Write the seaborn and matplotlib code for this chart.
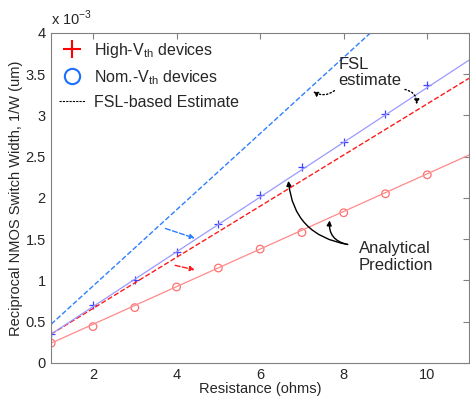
import numpy as np
import pandas as pd
import seaborn as sns
import matplotlib.pyplot as plt
from matplotlib.lines import Line2D

# resistance (ohms) and reciprocal width values in units of 1e-3 1/um
res = [1, 2, 3, 4, 5, 6, 7, 8, 9, 10]
high_vth_meas = [0.35, 0.70, 1.00, 1.34, 1.68, 2.03, 2.38, 2.68, 3.02, 3.37]
nom_vth_meas = [0.24, 0.44, 0.67, 0.92, 1.15, 1.38, 1.58, 1.82, 2.05, 2.28]

# analytical prediction lines (solid) and FSL estimates (dashed), end points
line_x = [1, 11]
high_vth_pred = [0.35, 3.67]
nom_vth_pred = [0.24, 2.52]
high_vth_fsl = [0.47, 5.09]
nom_vth_fsl = [0.35, 3.45]

sns.set_style("white")
plt.rcParams['font.family'] = ['Liberation Sans', 'DejaVu Sans']
plt.rcParams['mathtext.fontset'] = 'custom'
plt.rcParams['mathtext.rm'] = 'Liberation Sans'

fig = plt.figure(figsize=(4.7, 4.01), dpi=100)
ax = fig.add_axes([0.109, 0.095, 0.889, 0.823])

sns.lineplot(x=line_x, y=high_vth_fsl, ax=ax, color='#2f7fff', linestyle='--', linewidth=1.0)
sns.lineplot(x=line_x, y=nom_vth_fsl, ax=ax, color='#ff1a1a', linestyle='--', linewidth=1.0)
sns.lineplot(x=line_x, y=high_vth_pred, ax=ax, color='#9a9aff', linewidth=0.9)
sns.lineplot(x=line_x, y=nom_vth_pred, ax=ax, color='#ff8a8a', linewidth=0.9)
sns.scatterplot(x=res, y=high_vth_meas, ax=ax, marker='+', color='#4040ff', s=40, linewidth=0.9)
sns.scatterplot(x=res, y=nom_vth_meas, ax=ax, marker='o', facecolor='none', edgecolor='#ff7070', s=30, linewidth=0.9)

ax.set_xlim(1, 11)
ax.set_ylim(0, 4)
ax.set_xticks([2, 4, 6, 8, 10])
ax.set_yticks(np.arange(0, 4.01, 0.5))
ax.set_yticklabels(['0', '0.5', '1', '1.5', '2', '2.5', '3', '3.5', '4'])
ax.tick_params(direction='in', length=4, labelsize=10.5, color='#808080',
               top=True, right=True, pad=4)
for s in ax.spines.values():
    s.set_color('#808080')
    s.set_linewidth(0.8)
ax.set_xlabel('Resistance (ohms)', fontsize=10.5, labelpad=0)
ax.set_ylabel('Reciprocal NMOS Switch Width, 1/W (um)', fontsize=10.5, labelpad=2)
ax.text(0.0, 1.015, 'x 10$^{-3}$', transform=ax.transAxes, fontsize=10.5, ha='left', va='bottom')

handles = [
    Line2D([], [], color='red', marker='+', linestyle='none', markersize=13, markeredgewidth=1.5),
    Line2D([], [], color='#1a6fff', marker='o', linestyle='none', markersize=11,
           markerfacecolor='none', markeredgewidth=1.5),
    Line2D([], [], color='black', linestyle='--', linewidth=0.8, dashes=(2, 1)),
]
labels = ['High-V$_{\\rm th}$ devices', 'Nom.-V$_{\\rm th}$ devices', 'FSL-based Estimate']
ax.legend(handles, labels, loc='upper left', frameon=False, fontsize=11.5,
          handlelength=1.6, handletextpad=0.6, labelspacing=0.5,
          bbox_to_anchor=(0.0, 1.0), borderaxespad=0.1)

# FSL estimate annotations
ax.text(7.88, 3.52, 'FSL\nestimate', fontsize=12, ha='left', va='center', linespacing=1.15)
ax.annotate('', xy=(7.21, 3.31), xytext=(7.83, 3.32),
            arrowprops=dict(arrowstyle='-|>', linestyle=':', color='black', lw=1,
                            mutation_scale=7, connectionstyle='arc3,rad=-0.4'))
ax.annotate('', xy=(9.74, 3.10), xytext=(9.4, 3.32),
            arrowprops=dict(arrowstyle='-|>', linestyle=':', color='black', lw=1,
                            mutation_scale=7, connectionstyle='arc3,rad=-0.5'))
ax.annotate('', xy=(4.5, 1.50), xytext=(3.67, 1.64),
            arrowprops=dict(arrowstyle='-|>', linestyle='--', color='#2f7fff', lw=1,
                            mutation_scale=7))
ax.annotate('', xy=(4.5, 1.12), xytext=(3.9, 1.19),
            arrowprops=dict(arrowstyle='-|>', linestyle='--', color='#ff1a1a', lw=1,
                            mutation_scale=7))

# analytical prediction annotations
ax.text(8.36, 1.28, 'Analytical\nPrediction', fontsize=12, ha='left', va='center', linespacing=1.2)
ax.annotate('', xy=(6.67, 2.24), xytext=(8.16, 1.43),
            arrowprops=dict(arrowstyle='-|>', color='black', lw=1,
                            mutation_scale=7, connectionstyle='arc3,rad=-0.4'))
ax.annotate('', xy=(7.67, 1.76), xytext=(8.16, 1.43),
            arrowprops=dict(arrowstyle='-|>', color='black', lw=1,
                            mutation_scale=7, connectionstyle='arc3,rad=-0.5'))

fig.savefig('out.png', dpi=100)
